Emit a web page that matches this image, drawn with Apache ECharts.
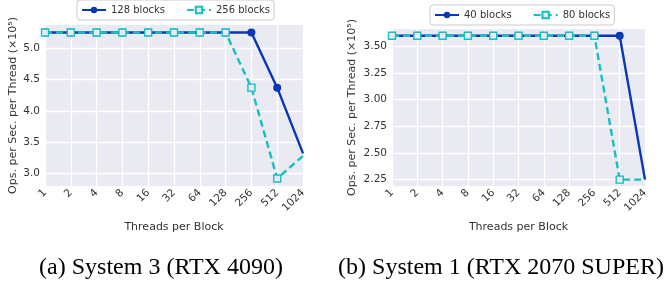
<!DOCTYPE html>
<html>
<head>
    <meta charset="UTF-8">
    <title>Threads per Block</title>
    <script src="https://cdn.jsdelivr.net/npm/echarts@6/dist/echarts.min.js"></script>
    <style>
        html, body { margin: 0; padding: 0; background: #fff; }
        #chart { width: 665px; height: 285px; }
    </style>
</head>
<body>
<div id="chart"></div>
<script type="text/javascript">
    // categories (x axis)
    var threads = ['1', '2', '4', '8', '16', '32', '64', '128', '256', '512', '1024'];

    // (a) System 3
    var sys3_128 = [5.25, 5.25, 5.25, 5.25, 5.25, 5.25, 5.25, 5.25, 5.25, 4.37, 3.32];
    var sys3_256 = [5.25, 5.25, 5.25, 5.25, 5.25, 5.25, 5.25, 5.25, 4.37, 2.92, 3.28];
    var sys3_ticks = [3.0, 3.5, 4.0, 4.5, 5.0];

    // (b) System 1
    var sys1_40 = [3.6, 3.6, 3.6, 3.6, 3.6, 3.6, 3.6, 3.6, 3.6, 3.6, 2.25];
    var sys1_80 = [3.6, 3.6, 3.6, 3.6, 3.6, 3.6, 3.6, 3.6, 3.6, 2.25, 2.25];
    var sys1_ticks = [2.25, 2.5, 2.75, 3.0, 3.25, 3.5];

    var BLUE = '#0a37b5';
    var CYAN = '#17bfbf';
    var FONT = 'DejaVu Sans';

    function xAxisOf(idx) {
        return {
            type: 'category', gridIndex: idx, data: threads, boundaryGap: false,
            name: 'Threads per Block', nameLocation: 'middle', nameGap: 36,
            nameTextStyle: { fontFamily: FONT, fontSize: 11, color: '#333' },
            axisLine: { show: false }, axisTick: { show: false },
            axisLabel: { rotate: 45, fontFamily: FONT, fontSize: 10.5, color: '#333', margin: 5, interval: 0 },
            splitLine: { show: true, lineStyle: { color: '#fff', width: 1.3 } }
        };
    }

    function yAxisOf(idx, min, max, ticks, digits) {
        return {
            type: 'value', gridIndex: idx, min: min, max: max,
            name: 'Ops. per Sec. per Thread (×10⁵)', nameLocation: 'middle', nameGap: idx === 0 ? 26 : 34,
            nameTextStyle: { fontFamily: FONT, fontSize: 11, color: '#333' },
            axisLine: { show: false },
            axisTick: { show: false, customValues: ticks },
            axisLabel: {
                customValues: ticks, fontFamily: FONT, fontSize: 10.5, color: '#333', margin: 5,
                formatter: function (v) { return v.toFixed(digits); }
            },
            splitLine: { show: true, lineStyle: { color: '#fff', width: 1.3 } }
        };
    }

    // the last point sits on the plot edge and is clipped in the original
    function points(values) {
        return values.map(function (v, i) {
            return i === values.length - 1 ? { value: v, symbol: 'none' } : v;
        });
    }

    function lineOf(name, data, idx, solid) {
        return {
            name: name, type: 'line', data: points(data), xAxisIndex: idx, yAxisIndex: idx,
            symbol: solid ? 'circle' : 'rect', symbolSize: solid ? 8 : 7,
            color: solid ? BLUE : CYAN,
            lineStyle: { width: 2.4, type: solid ? 'solid' : [7, 4], color: solid ? BLUE : CYAN },
            itemStyle: solid ? { color: BLUE } : { color: '#eaeaf2', borderColor: CYAN, borderWidth: 1.4 },
            z: solid ? 2 : 3
        };
    }

    var legendStyle = {
        orient: 'horizontal', itemWidth: 24, itemHeight: 8, itemGap: 21,
        backgroundColor: '#fff', borderColor: '#cccccc', borderWidth: 1, borderRadius: 3,
        padding: [5, 4],
        textStyle: { fontFamily: FONT, fontSize: 10, color: '#333' }
    };

    var captionStyle = { fontFamily: 'Liberation Serif', fontSize: 24, fontWeight: 'normal', color: '#000' };

    var chart = echarts.init(document.getElementById('chart'), null, { renderer: 'canvas' });
    chart.setOption({
        animation: false,
        backgroundColor: '#fff',
        title: [
            { text: '(a) System 3 (RTX 4090)', left: 161, top: 256, textAlign: 'center', padding: 0, textStyle: captionStyle },
            { text: '(b) System 1 (RTX 2070 SUPER)', left: 501, top: 256, textAlign: 'center', padding: 0, textStyle: captionStyle }
        ],
        legend: [
            Object.assign({ data: ['128 blocks', '256 blocks'], left: 77, top: 0 }, legendStyle),
            Object.assign({ data: ['40 blocks', '80 blocks'], left: 430, top: 5 }, legendStyle)
        ],
        grid: [
            { left: 45, right: 362, top: 25, bottom: 99, show: true, backgroundColor: '#eaeaf2', borderWidth: 0 },
            { left: 392, right: 20, top: 29, bottom: 99, show: true, backgroundColor: '#eaeaf2', borderWidth: 0 }
        ],
        xAxis: [xAxisOf(0), xAxisOf(1)],
        yAxis: [yAxisOf(0, 2.8, 5.37, sys3_ticks, 1), yAxisOf(1, 2.19, 3.663, sys1_ticks, 2)],
        series: [
            lineOf('128 blocks', sys3_128, 0, true),
            lineOf('256 blocks', sys3_256, 0, false),
            lineOf('40 blocks', sys1_40, 1, true),
            lineOf('80 blocks', sys1_80, 1, false)
        ]
    });
</script>
</body>
</html>
